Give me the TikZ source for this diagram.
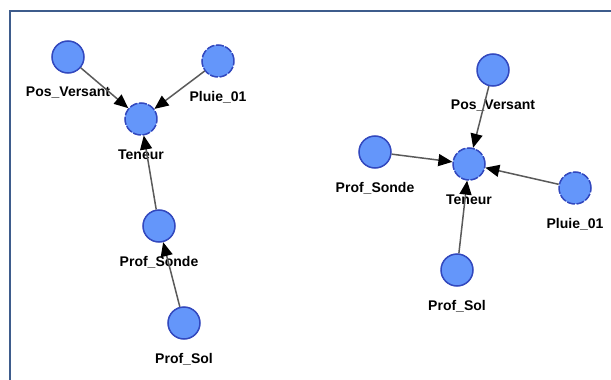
\documentclass[tikz,border=0pt]{standalone}
\usepackage{fontspec}
\setsansfont{Liberation Sans}
\usepackage{tikz}
\usetikzlibrary{arrows.meta,positioning}
\definecolor{frame}{RGB}{62,92,140}
\definecolor{varfill}{RGB}{100,150,250}
\definecolor{varline}{RGB}{50,72,190}
\definecolor{link}{RGB}{90,90,90}
\tikzset{
  var/.style={circle, draw=varline, line width=1.5pt, fill=varfill, minimum size=32pt, inner sep=0pt},
  vardash/.style={var, dash pattern=on 8pt off 1.6pt},
  lbl/.style={font=\sffamily\bfseries\fontsize{14}{16}\selectfont, inner sep=1pt},
  infl/.style={draw=link, line width=1.5pt, -{Triangle[length=14pt, width=12pt, fill=black, color=black]}}
}

\begin{document}
\begin{tikzpicture}[x=1pt, y=-1pt]
    \useasboundingbox (0,0) rectangle (611,380);
    \fill[white] (0,0) rectangle (611,380);
    \draw[frame, line width=2pt] (10,382) -- (10,11) -- (613,11);
    % reseau de gauche
    \foreach \id/\x/\y/\name/\sty in {aPos/68/57/{Pos\_Versant}/var, aPluie/218/61/{Pluie\_01}/vardash,
        aTen/141/119/{Teneur}/vardash, aSonde/159/226/{Prof\_Sonde}/var, aSol/184/323/{Prof\_Sol}/var}{
      \node[\sty] (\id) at (\x,\y) {};
      \node[lbl] (\id l) at (\x,\y+36) {\name};
    }
    % reseau de droite
    \foreach \id/\x/\y/\name/\sty in {bPos/493/70/{Pos\_Versant}/var, bSonde/375/152/{Prof\_Sonde}/var,
        bTen/469/164/{Teneur}/vardash, bPluie/575/188/{Pluie\_01}/vardash, bSol/457/270/{Prof\_Sol}/var}{
      \node[\sty] (\id) at (\x,\y) {};
      \node[lbl] (\id l) at (\x,\y+36) {\name};
    }
    \draw[infl] (aPos) -- (aTen);
    \draw[infl] (aPluie) -- (aTen);
    \draw[infl] (aSonde) -- (aTen);
    \draw[infl] (aSol) -- (aSonde);
    \draw[infl] (bPos) -- (bTen);
    \draw[infl] (bSonde) -- (bTen);
    \draw[infl] (bPluie) -- (bTen);
    \draw[infl] (bSol) -- (bTen);
  \end{tikzpicture}
\end{document}
